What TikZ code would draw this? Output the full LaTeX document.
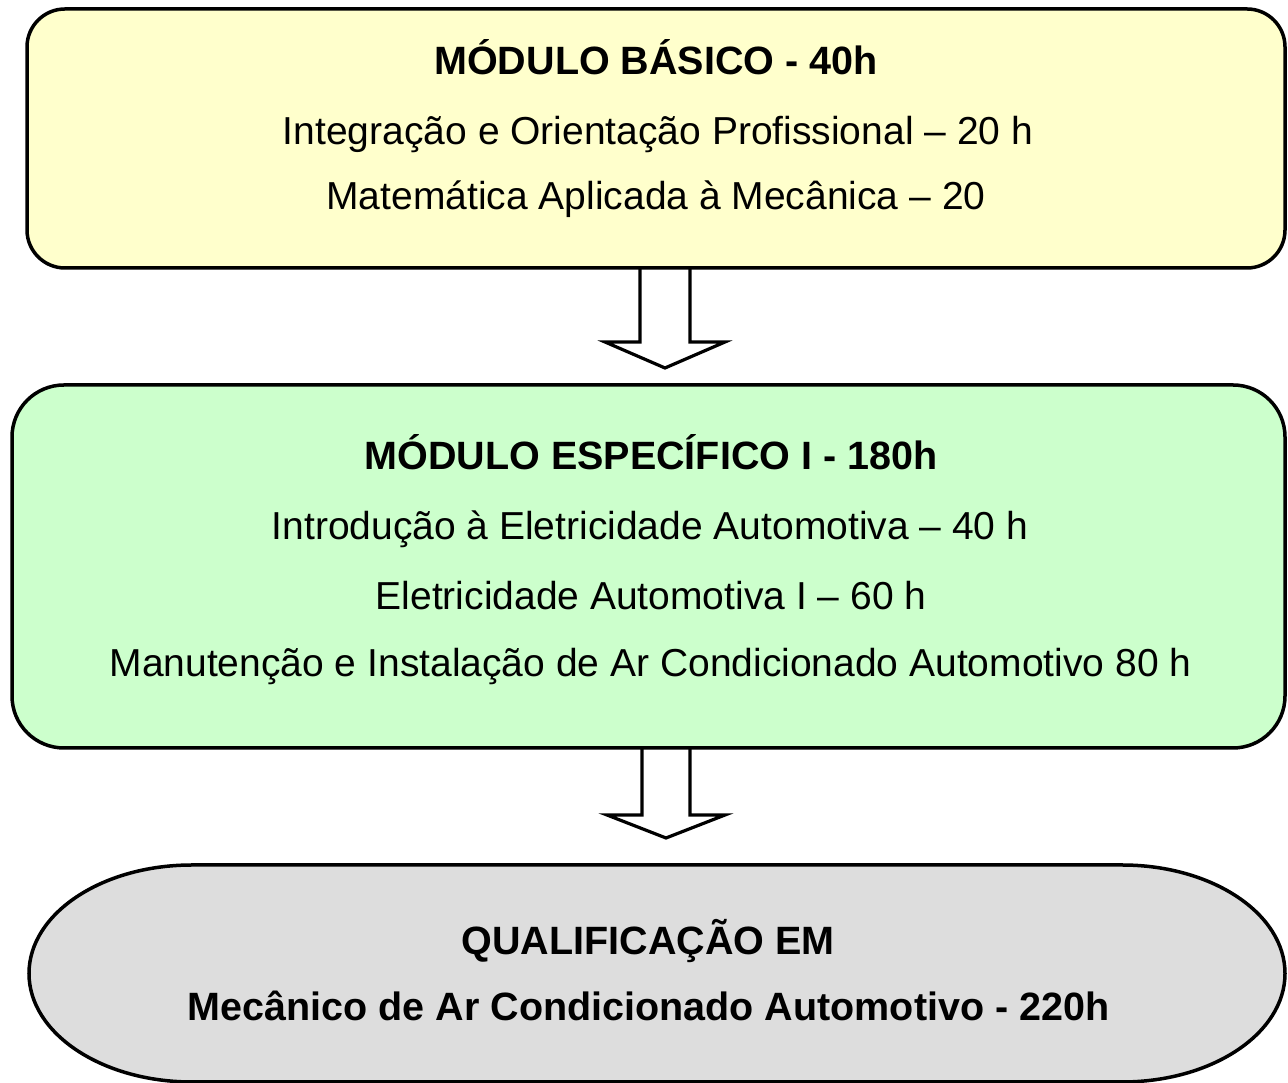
\documentclass[tikz,border=0pt]{standalone}
\usepackage{fontspec}
\setmainfont{Liberation Sans}
\usetikzlibrary{calc}
\definecolor{yellowbg}{HTML}{FFFFCC}
\definecolor{greenbg}{HTML}{CCFFCC}
\definecolor{graybg}{HTML}{DDDDDD}
\begin{document}
\begin{tikzpicture}[x=1pt,y=1pt,
  modbox/.style={draw=black, line width=3.5pt, rectangle, outer sep=0pt, inner sep=0pt},
  txt/.style={anchor=base, inner sep=0pt, font=\fontsize{39}{46}\selectfont},
  ttl/.style={txt, font=\fontsize{39.5}{46}\selectfont\bfseries},
  blockarrow/.style={draw=black, line width=3.2pt, line join=miter}]
\useasboundingbox (0,0) rectangle (1288,1083);
% boxes
\node[modbox, fill=yellowbg, rounded corners=38pt, minimum width=1258pt, minimum height=259pt] (b1) at (656,944.5) {};
\node[modbox, fill=greenbg, rounded corners=52pt, minimum width=1273pt, minimum height=363pt] (b2) at (648.5,516.5) {};
\draw[line width=3.5pt, fill=graybg] (192,218) -- (1122,218)
  arc[start angle=90, end angle=-90, x radius=163pt, y radius=108.5pt]
  -- (192,1)
  arc[start angle=270, end angle=90, x radius=163pt, y radius=108.5pt] -- cycle;
\node[inner sep=0pt, outer sep=0pt, minimum width=1258pt, minimum height=217pt] (b3) at (656,109.5) {};
% texts
\node[ttl] (b1t) at (656,1008) {MÓDULO BÁSICO - 40h};
\node[txt] (b1a) at (658,938) {Integração e Orientação Profissional – 20 h};
\node[txt] (b1b) at (656,873) {Matemática Aplicada à Mecânica – 20};
\node[ttl] (b2t) at (651,613) {MÓDULO ESPECÍFICO I - 180h};
\node[txt] (b2a) at (650,543) {Introdução à Eletricidade Automotiva – 40 h};
\node[txt] (b2b) at (651,473) {Eletricidade Automotiva I – 60 h};
\node[txt] (b2c) at (650.5,406) {Manutenção e Instalação de Ar Condicionado Automotivo 80 h};
\node[ttl] (b3t) at (648,128) {QUALIFICAÇÃO EM};
\node[ttl] (b3a) at (648.5,62) {Mecânico de Ar Condicionado Automotivo - 220h};
% block arrows
\draw[blockarrow] ($(b1.south)+(-16,0)$) -- ++(0,-74) -- ++(-35,0) -- ++(60,-26) -- ++(60,26) -- ++(-35,0) -- ++(0,74);
\draw[blockarrow] ($(b2.south)+(-6.5,0)$) -- ++(0,-67) -- ++(-35,0) -- ++(59,-23) -- ++(59,23) -- ++(-35,0) -- ++(0,67);
\end{tikzpicture}
\end{document}
